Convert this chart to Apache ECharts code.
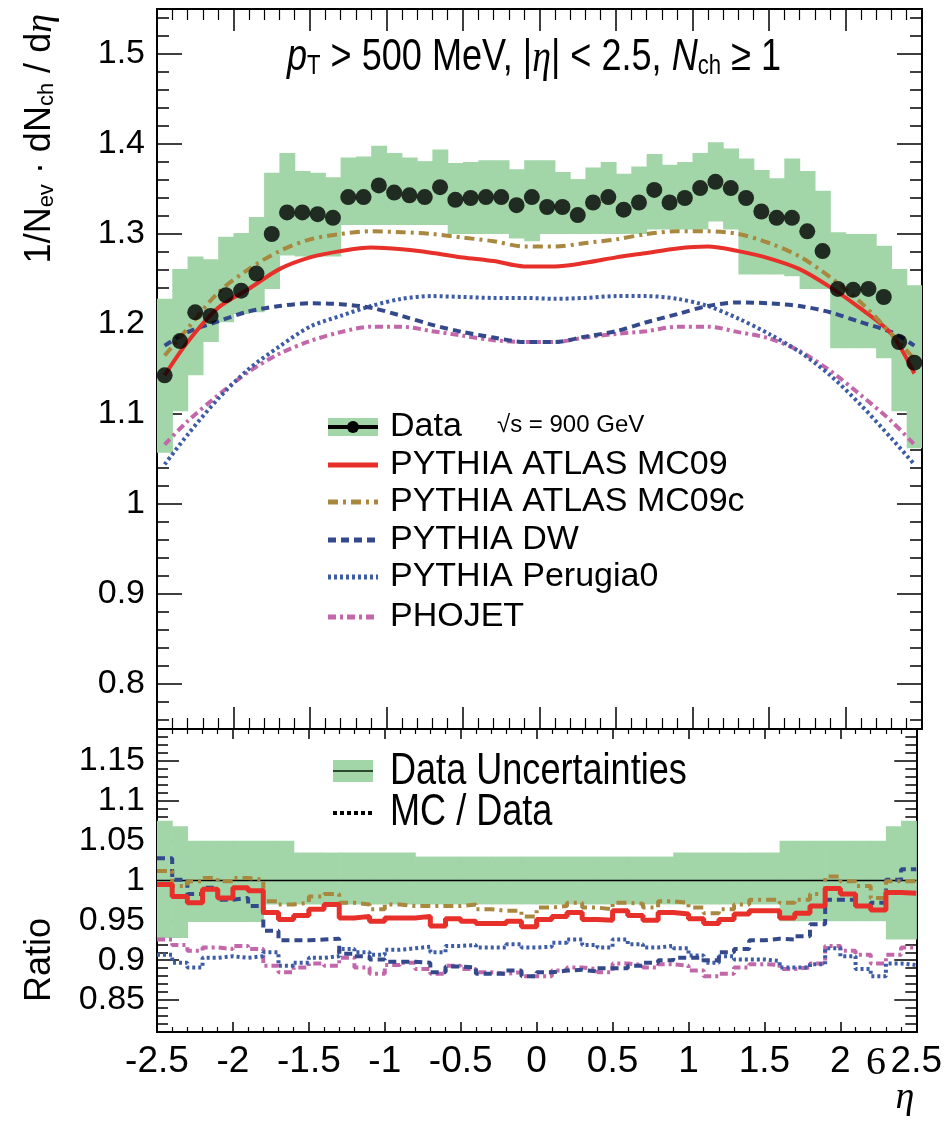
<!DOCTYPE html>
<html lang="en">
<head>
<meta charset="UTF-8">
<title>dNch/deta at 900 GeV</title>
<script src="https://cdn.jsdelivr.net/npm/echarts@6/dist/echarts.min.js"></script>
<style>
  html, body { margin: 0; padding: 0; background: #fff; }
  #main { width: 945px; height: 1124px; }
</style>
</head>
<body>
<div id="main"></div>
<script>
  // bin centres in eta (bin width 0.1)
  const etaBins = [-2.45, -2.35, -2.25, -2.15, -2.05, -1.95, -1.85, -1.75, -1.65, -1.55,
    -1.45, -1.35, -1.25, -1.15, -1.05, -0.95, -0.85, -0.75, -0.65, -0.55,
    -0.45, -0.35, -0.25, -0.15, -0.05, 0.05, 0.15, 0.25, 0.35, 0.45,
    0.55, 0.65, 0.75, 0.85, 0.95, 1.05, 1.15, 1.25, 1.35, 1.45,
    1.55, 1.65, 1.75, 1.85, 1.95, 2.05, 2.15, 2.25, 2.35, 2.45];

  // measured dNch/deta
  const dataVals = [1.143, 1.181, 1.213, 1.209, 1.232, 1.237, 1.256, 1.300, 1.324, 1.324,
    1.322, 1.318, 1.341, 1.341, 1.354, 1.346, 1.343, 1.341, 1.352, 1.338,
    1.340, 1.341, 1.341, 1.332, 1.341, 1.330, 1.330, 1.321, 1.335, 1.341,
    1.327, 1.335, 1.349, 1.335, 1.340, 1.351, 1.358, 1.351, 1.340, 1.325,
    1.318, 1.318, 1.303, 1.281, 1.239, 1.238, 1.239, 1.230, 1.180, 1.157];
  const bandHi = [1.228, 1.261, 1.275, 1.272, 1.297, 1.301, 1.319, 1.368, 1.390, 1.370,
    1.368, 1.363, 1.385, 1.386, 1.398, 1.390, 1.385, 1.381, 1.394, 1.379,
    1.380, 1.382, 1.382, 1.372, 1.382, 1.382, 1.369, 1.361, 1.374, 1.380,
    1.367, 1.375, 1.389, 1.377, 1.380, 1.390, 1.402, 1.395, 1.384, 1.371,
    1.362, 1.384, 1.370, 1.348, 1.302, 1.300, 1.300, 1.287, 1.261, 1.243];
  const bandLo = [1.057, 1.103, 1.143, 1.180, 1.202, 1.211, 1.213, 1.239, 1.276, 1.275,
    1.275, 1.275, 1.310, 1.310, 1.310, 1.310, 1.310, 1.310, 1.310, 1.300,
    1.300, 1.300, 1.300, 1.295, 1.292, 1.300, 1.300, 1.300, 1.300, 1.300,
    1.300, 1.300, 1.305, 1.305, 1.305, 1.305, 1.314, 1.305, 1.255, 1.255,
    1.255, 1.253, 1.239, 1.239, 1.173, 1.173, 1.173, 1.162, 1.103, 1.062];

  // MC predictions (smooth curves)
  const etaCurve = [-2.45, -2.3, -2.1, -1.9, -1.7, -1.5, -1.3, -1.1, -0.9, -0.7, -0.5, -0.3, -0.1,
    0.1, 0.3, 0.5, 0.7, 0.9, 1.1, 1.3, 1.5, 1.7, 1.9, 2.1, 2.3, 2.45];
  const mc09 = [1.143, 1.180, 1.218, 1.239, 1.261, 1.274, 1.281, 1.285, 1.283, 1.279, 1.274, 1.270, 1.264,
    1.264, 1.268, 1.274, 1.279, 1.284, 1.286, 1.281, 1.273, 1.261, 1.241, 1.217, 1.189, 1.145];
  const mc09c = [1.165, 1.195, 1.235, 1.261, 1.281, 1.294, 1.300, 1.303, 1.302, 1.300, 1.296, 1.292, 1.286,
    1.286, 1.290, 1.294, 1.300, 1.303, 1.303, 1.300, 1.290, 1.275, 1.252, 1.224, 1.189, 1.161];
  const dw = [1.176, 1.191, 1.203, 1.214, 1.220, 1.223, 1.222, 1.218, 1.209, 1.199, 1.191, 1.185, 1.180,
    1.180, 1.186, 1.192, 1.202, 1.211, 1.220, 1.224, 1.223, 1.220, 1.213, 1.202, 1.191, 1.176];
  const perugia0 = [1.044, 1.077, 1.117, 1.150, 1.175, 1.197, 1.209, 1.220, 1.228, 1.231, 1.230, 1.229, 1.229,
    1.228, 1.229, 1.231, 1.231, 1.228, 1.220, 1.206, 1.189, 1.169, 1.143, 1.110, 1.073, 1.044];
  const phojet = [1.066, 1.092, 1.121, 1.147, 1.167, 1.181, 1.191, 1.197, 1.197, 1.192, 1.187, 1.182, 1.180,
    1.180, 1.185, 1.189, 1.192, 1.197, 1.197, 1.191, 1.184, 1.170, 1.148, 1.121, 1.092, 1.066];

  // ratio panel (MC / data per bin)
  const ratioBandHi = [1.075, 1.068, 1.05, 1.05, 1.05, 1.05, 1.05, 1.05, 1.05, 1.035,
    1.035, 1.035, 1.035, 1.035, 1.035, 1.035, 1.035, 1.03, 1.03, 1.03,
    1.03, 1.03, 1.03, 1.03, 1.03, 1.03, 1.03, 1.03, 1.03, 1.03,
    1.03, 1.03, 1.03, 1.03, 1.035, 1.035, 1.035, 1.035, 1.035, 1.035,
    1.035, 1.05, 1.05, 1.05, 1.05, 1.05, 1.05, 1.05, 1.068, 1.075];
  const ratioBandLo = [0.928, 0.928, 0.948, 0.948, 0.948, 0.948, 0.948, 0.97, 0.97, 0.97,
    0.97, 0.97, 0.97, 0.97, 0.97, 0.97, 0.97, 0.97, 0.97, 0.97,
    0.97, 0.97, 0.97, 0.97, 0.97, 0.97, 0.97, 0.97, 0.97, 0.97,
    0.97, 0.97, 0.97, 0.97, 0.97, 0.97, 0.97, 0.97, 0.97, 0.97,
    0.97, 0.949, 0.949, 0.949, 0.949, 0.949, 0.949, 0.949, 0.926, 0.926];
  const ratioMc09 = [0.995, 0.980, 0.972, 0.989, 0.978, 0.991, 0.987, 0.960, 0.951, 0.956,
    0.964, 0.970, 0.953, 0.955, 0.949, 0.953, 0.953, 0.955, 0.943, 0.952,
    0.949, 0.946, 0.946, 0.949, 0.942, 0.951, 0.955, 0.960, 0.951, 0.950,
    0.962, 0.956, 0.950, 0.960, 0.958, 0.952, 0.946, 0.951, 0.958, 0.962,
    0.962, 0.953, 0.959, 0.968, 0.990, 0.983, 0.968, 0.963, 0.985, 0.984];
  const ratioMc09c = [1.012, 0.993, 0.999, 1.003, 0.999, 1.003, 1.001, 0.974, 0.970, 0.972,
    0.980, 0.983, 0.972, 0.970, 0.964, 0.970, 0.968, 0.968, 0.968, 0.968,
    0.970, 0.964, 0.962, 0.962, 0.955, 0.966, 0.968, 0.972, 0.966, 0.964,
    0.972, 0.971, 0.966, 0.974, 0.972, 0.966, 0.959, 0.964, 0.970, 0.976,
    0.976, 0.972, 0.976, 0.983, 1.005, 0.999, 0.993, 0.978, 0.999, 0.999];
  const ratioDw = [1.028, 1.001, 0.983, 0.991, 0.976, 0.978, 0.968, 0.937, 0.925, 0.925,
    0.926, 0.927, 0.908, 0.905, 0.901, 0.898, 0.898, 0.897, 0.885, 0.892,
    0.891, 0.883, 0.883, 0.887, 0.880, 0.885, 0.887, 0.888, 0.886, 0.890,
    0.890, 0.893, 0.897, 0.900, 0.903, 0.903, 0.900, 0.910, 0.914, 0.925,
    0.927, 0.926, 0.930, 0.945, 0.976, 0.976, 0.968, 0.972, 1.001, 1.014];
  const ratioPerugia0 = [0.907, 0.897, 0.891, 0.903, 0.905, 0.903, 0.905, 0.910, 0.893, 0.897,
    0.903, 0.905, 0.914, 0.910, 0.907, 0.913, 0.915, 0.917, 0.910, 0.918,
    0.919, 0.916, 0.916, 0.920, 0.916, 0.917, 0.922, 0.926, 0.919, 0.916,
    0.926, 0.920, 0.916, 0.918, 0.915, 0.906, 0.897, 0.905, 0.901, 0.901,
    0.899, 0.891, 0.891, 0.895, 0.915, 0.905, 0.889, 0.880, 0.896, 0.894];
  const ratioPhojet = [0.926, 0.919, 0.912, 0.916, 0.914, 0.918, 0.914, 0.893, 0.885, 0.891,
    0.896, 0.893, 0.903, 0.891, 0.883, 0.894, 0.897, 0.889, 0.883, 0.893,
    0.889, 0.885, 0.883, 0.885, 0.880, 0.880, 0.887, 0.891, 0.889, 0.885,
    0.896, 0.894, 0.891, 0.895, 0.893, 0.887, 0.880, 0.883, 0.891, 0.895,
    0.894, 0.889, 0.891, 0.896, 0.918, 0.912, 0.907, 0.896, 0.907, 0.916];

  // axis ticks
  const yTicksTop = [0.8, 0.9, 1, 1.1, 1.2, 1.3, 1.4, 1.5];
  const yTicksRatio = [0.85, 0.9, 0.95, 1, 1.05, 1.1, 1.15];
  const yMinorTop = [];
  for (let v = 76; v <= 154; v += 2) yMinorTop.push(v / 100);
  const yMinorRatio = [];
  for (let v = 81; v <= 119; v += 1) yMinorRatio.push(v / 100);

  const GREEN = '#a2d5a8';
  const RED = '#e8302a';
  const BROWN = '#a8873f';
  const DWBLUE = '#34498c';
  const PERBLUE = '#3d5ca6';
  const PINK = '#c267aa';
  const SANS = 'Liberation Sans';
  const SQUEEZE = 0.82; // condensed look for the header and ratio legend

  const fmt = v => String(+(+v).toFixed(2));

  function xAxisDef(grid, pos, len, labels) {
    return {
      type: 'value', gridIndex: grid, position: pos, min: -2.5, max: 2.5, interval: 0.5,
      axisLine: { show: true, onZero: false, lineStyle: { color: '#000', width: 2 } },
      axisTick: { show: true, inside: true, length: len, lineStyle: { color: '#000', width: 1.5 } },
      minorTick: { show: true, splitNumber: 5, length: len / 2, lineStyle: { color: '#000', width: 1.2 } },
      axisLabel: labels ? {
        show: true, formatter: fmt, showMinLabel: true, showMaxLabel: true,
        fontFamily: SANS, fontSize: 37, color: '#000', margin: 11
      } : { show: false },
      splitLine: { show: false }
    };
  }

  function yAxisDef(grid, pos, ticks, len, labels, min, max) {
    return {
      type: 'value', gridIndex: grid, position: pos, min: min, max: max,
      axisLine: { show: true, onZero: false, lineStyle: { color: '#000', width: 2 } },
      axisTick: { show: true, inside: true, length: len, customValues: ticks, lineStyle: { color: '#000', width: 1.5 } },
      axisLabel: labels ? {
        show: true, customValues: ticks, formatter: fmt,
        fontFamily: SANS, fontSize: 34, color: '#000', margin: 12
      } : { show: false },
      splitLine: { show: false }
    };
  }

  function bandItem(params, api) {
    const a = api.coord([api.value(0), api.value(3)]);
    const b = api.coord([api.value(1), api.value(2)]);
    return {
      type: 'rect',
      shape: { x: a[0], y: a[1], width: b[0] - a[0] + 0.6, height: b[1] - a[1] },
      style: { fill: GREEN }
    };
  }

  function curve(name, vals, color, type, width) {
    return {
      name: name, type: 'line', xAxisIndex: 0, yAxisIndex: 0, smooth: 0.3,
      showSymbol: false, symbol: 'none', z: 3,
      data: etaCurve.map((x, i) => [x, vals[i]]),
      lineStyle: { color: color, width: width, type: type }
    };
  }

  function stepLine(name, vals, color, type, width) {
    const pts = etaBins.map((c, i) => [+(c - 0.05).toFixed(2), vals[i]]);
    pts.push([2.5, vals[vals.length - 1]]);
    return {
      name: name, type: 'line', xAxisIndex: 2, yAxisIndex: 4, step: 'end',
      showSymbol: false, symbol: 'none', z: 3,
      data: pts,
      lineStyle: { color: color, width: width, type: type }
    };
  }

  const chart = echarts.init(document.getElementById('main'));

  const legendY = [427, 465, 502, 540, 577, 617];
  const legendLines = [
    { text: 'PYTHIA ATLAS MC09', color: RED, dash: null },
    { text: 'PYTHIA ATLAS MC09c', color: BROWN, dash: [10, 5, 3, 5] },
    { text: 'PYTHIA DW', color: DWBLUE, dash: [8, 5] },
    { text: 'PYTHIA Perugia0', color: PERBLUE, dash: [3, 3] },
    { text: 'PHOJET', color: PINK, dash: [8, 4, 3, 4] }
  ];

  const graphics = [
    // y axis title (rotated)
    {
      type: 'text', x: 40, y: 14, rotation: Math.PI / 2,
      style: {
        text: '{n|1/N}{s|ev}{n| · dN}{s|ch}{n| / d}{e|η}',
        align: 'right', verticalAlign: 'middle',
        rich: {
          n: { fontFamily: SANS, fontSize: 36, fill: '#000', lineHeight: 36, verticalAlign: 'top' },
          s: { fontFamily: SANS, fontSize: 22, fill: '#000', lineHeight: 22, verticalAlign: 'bottom', padding: [24, 0, 0, 0] },
          e: { fontFamily: 'Liberation Serif', fontStyle: 'italic', fontSize: 38, fill: '#000', lineHeight: 36, verticalAlign: 'top' }
        }
      }
    },
    {
      type: 'text', x: 40, y: 960, rotation: Math.PI / 2,
      style: { text: 'Ratio', align: 'center', verticalAlign: 'middle', fontFamily: SANS, fontSize: 36, fill: '#000' }
    },
    // header text
    {
      type: 'text', x: 287, y: 58, scaleX: SQUEEZE,
      style: {
        text: '{i|p}{s|T}{n| > 500 MeV, |}{e|η}{n|| < 2.5, }{i|N}{s|ch}{n| ≥ 1}',
        align: 'left', verticalAlign: 'middle',
        rich: {
          n: { fontFamily: SANS, fontSize: 44, fill: '#000', lineHeight: 44, verticalAlign: 'top' },
          i: { fontFamily: SANS, fontStyle: 'italic', fontSize: 44, fill: '#000', lineHeight: 44, verticalAlign: 'top' },
          s: { fontFamily: SANS, fontSize: 27, fill: '#000', lineHeight: 27, verticalAlign: 'bottom', padding: [30, 0, 0, 0] },
          e: { fontFamily: 'Liberation Serif', fontStyle: 'italic', fontSize: 46, fill: '#000', lineHeight: 44, verticalAlign: 'top' }
        }
      }
    },
    // top legend: data entry
    { type: 'rect', shape: { x: 328, y: 418, width: 50, height: 18 }, style: { fill: GREEN } },
    { type: 'line', shape: { x1: 328, y1: 427, x2: 378, y2: 427 }, style: { stroke: '#000', lineWidth: 4 } },
    { type: 'circle', shape: { cx: 353, cy: 427, r: 6 }, style: { fill: '#000' } },
    { type: 'text', x: 390, y: legendY[0], style: { text: 'Data', align: 'left', verticalAlign: 'middle', fontFamily: SANS, fontSize: 34, fill: '#000' } },
    { type: 'text', x: 497, y: 425, style: { text: '√s = 900 GeV', align: 'left', verticalAlign: 'middle', fontFamily: SANS, fontSize: 24, fill: '#000' } },
    // bottom legend
    { type: 'rect', shape: { x: 333, y: 760, width: 40, height: 22 }, style: { fill: GREEN } },
    { type: 'line', shape: { x1: 333, y1: 771, x2: 373, y2: 771 }, style: { stroke: '#2c4a30', lineWidth: 2 } },
    { type: 'text', x: 390, y: 772, scaleX: SQUEEZE, style: { text: 'Data Uncertainties', align: 'left', verticalAlign: 'middle', fontFamily: SANS, fontSize: 44, fill: '#000' } },
    { type: 'line', shape: { x1: 333, y1: 813, x2: 373, y2: 813 }, style: { stroke: '#000', lineWidth: 4, lineDash: [4, 3] } },
    { type: 'text', x: 390, y: 813, scaleX: SQUEEZE, style: { text: 'MC / Data', align: 'left', verticalAlign: 'middle', fontFamily: SANS, fontSize: 44, fill: '#000' } },
    // stray glyph next to the last tick label, and the eta axis title
    { type: 'text', x: 876, y: 1063, style: { text: '6', align: 'center', verticalAlign: 'middle', fontFamily: 'Liberation Serif', fontSize: 40, fill: '#000' } },
    { type: 'text', x: 905, y: 1098, style: { text: 'η', align: 'center', verticalAlign: 'middle', fontFamily: 'Liberation Serif', fontStyle: 'italic', fontSize: 38, fill: '#000' } }
  ];
  legendLines.forEach((l, i) => {
    graphics.push({ type: 'line', shape: { x1: 328, y1: legendY[i + 1], x2: 378, y2: legendY[i + 1] },
      style: { stroke: l.color, lineWidth: 5, lineDash: l.dash } });
    graphics.push({ type: 'text', x: 390, y: legendY[i + 1],
      style: { text: l.text, align: 'left', verticalAlign: 'middle', fontFamily: SANS, fontSize: 34, fill: '#000' } });
  });

  const option = {
    animation: false,
    backgroundColor: '#fff',
    textStyle: { fontFamily: SANS },
    grid: [
      { left: 157, top: 9, width: 765, height: 720 },
      { left: 157, top: 729, width: 765, height: 303 }
    ],
    xAxis: [
      xAxisDef(0, 'bottom', 22, false),
      xAxisDef(0, 'top', 22, false),
      xAxisDef(1, 'bottom', 10, true),
      xAxisDef(1, 'top', 10, false)
    ],
    yAxis: [
      yAxisDef(0, 'left', yTicksTop, 25, true, 0.75, 1.55),
      yAxisDef(0, 'left', yMinorTop, 12, false, 0.75, 1.55),
      yAxisDef(0, 'right', yTicksTop, 25, false, 0.75, 1.55),
      yAxisDef(0, 'right', yMinorTop, 12, false, 0.75, 1.55),
      yAxisDef(1, 'left', yTicksRatio, 22, true, 0.81, 1.19),
      yAxisDef(1, 'left', yMinorRatio, 11, false, 0.81, 1.19),
      yAxisDef(1, 'right', yTicksRatio, 22, false, 0.81, 1.19),
      yAxisDef(1, 'right', yMinorRatio, 11, false, 0.81, 1.19)
    ],
    series: [
      {
        name: 'Data band', type: 'custom', xAxisIndex: 0, yAxisIndex: 0, z: 1, clip: true,
        renderItem: bandItem, encode: { x: [0, 1], y: [2, 3] },
        data: etaBins.map((c, i) => [+(c - 0.05).toFixed(2), +(c + 0.05).toFixed(2), bandLo[i], bandHi[i]])
      },
      curve('PHOJET', phojet, PINK, [8, 4, 3, 4], 4),
      curve('PYTHIA Perugia0', perugia0, PERBLUE, [3, 3], 4),
      curve('PYTHIA DW', dw, DWBLUE, [8, 5], 4),
      curve('PYTHIA ATLAS MC09', mc09, RED, 'solid', 4),
      curve('PYTHIA ATLAS MC09c', mc09c, BROWN, [10, 5, 3, 5], 4),
      {
        name: 'Data', type: 'scatter', xAxisIndex: 0, yAxisIndex: 0, z: 5,
        symbol: 'circle', symbolSize: 16, itemStyle: { color: '#000' },
        data: etaBins.map((c, i) => [c, dataVals[i]])
      },
      {
        name: 'Ratio band', type: 'custom', xAxisIndex: 2, yAxisIndex: 4, z: 1, clip: true,
        renderItem: bandItem, encode: { x: [0, 1], y: [2, 3] },
        data: etaBins.map((c, i) => [+(c - 0.05).toFixed(2), +(c + 0.05).toFixed(2), ratioBandLo[i], ratioBandHi[i]])
      },
      {
        name: 'Unity', type: 'line', xAxisIndex: 2, yAxisIndex: 4, z: 2,
        showSymbol: false, symbol: 'none',
        data: [[-2.5, 1], [2.5, 1]],
        lineStyle: { color: '#000', width: 1.5 }
      },
      stepLine('PHOJET', ratioPhojet, PINK, [8, 4, 3, 4], 4),
      stepLine('PYTHIA Perugia0', ratioPerugia0, PERBLUE, [3, 3], 4),
      stepLine('PYTHIA DW', ratioDw, DWBLUE, [8, 5], 4),
      stepLine('PYTHIA ATLAS MC09c', ratioMc09c, BROWN, [10, 5, 3, 5], 4),
      stepLine('PYTHIA ATLAS MC09', ratioMc09, RED, 'solid', 5)
    ],
    graphic: graphics
  };

  chart.setOption(option);
</script>
</body>
</html>
